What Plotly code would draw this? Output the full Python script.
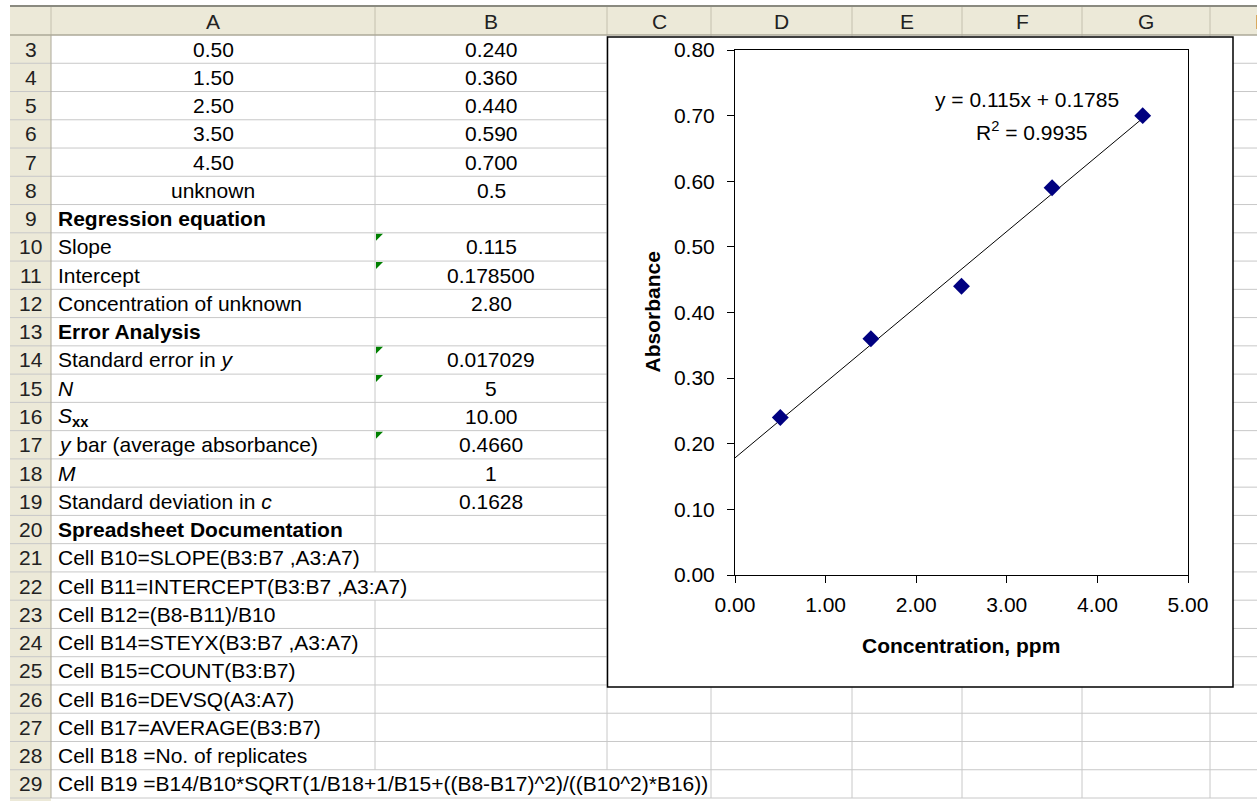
import plotly.graph_objects as go

W, H = 1257, 801

# ---------------- data ----------------
conc = [0.50, 1.50, 2.50, 3.50, 4.50]
absorbance = [0.240, 0.360, 0.440, 0.590, 0.700]
unknown_abs = 0.5
slope = 0.115
intercept = 0.1785
r_squared = 0.9935

col_letters = ["A", "B", "C", "D", "E", "F", "G", "H"]
first_row = 3
last_row = 29

# rows 9..29, column A text and column B text
sheet_col_a = [
    "<b>Regression equation</b>",
    "Slope",
    "Intercept",
    "Concentration of unknown",
    "<b>Error Analysis</b>",
    "Standard error in <i>y</i>",
    "<i>N</i>",
    "<i>S</i><sub><b>xx</b></sub>",
    "<i>y</i> bar (average absorbance)",
    "<i>M</i>",
    "Standard deviation in <i>c</i>",
    "<b>Spreadsheet Documentation</b>",
    "Cell B10=SLOPE(B3:B7 ,A3:A7)",
    "Cell B11=INTERCEPT(B3:B7 ,A3:A7)",
    "Cell B12=(B8-B11)/B10",
    "Cell B14=STEYX(B3:B7 ,A3:A7)",
    "Cell B15=COUNT(B3:B7)",
    "Cell B16=DEVSQ(A3:A7)",
    "Cell B17=AVERAGE(B3:B7)",
    "Cell B18 =No. of replicates",
    "Cell B19 =B14/B10*SQRT(1/B18+1/B15+((B8-B17)^2)/((B10^2)*B16))",
]
sheet_col_b = [
    "", "0.115", "0.178500", "2.80", "", "0.017029", "5", "10.00",
    "0.4660", "1", "0.1628", "", "", "", "", "", "", "", "", "", "",
]
flagged_rows = [10, 11, 14, 15, 17]   # cells with green error indicator
overflow_rows = {22: [375], 29: [375, 607]}  # gridlines hidden by text overflow

# ---------------- layout geometry (pixels) ----------------
FONT = "Liberation Sans, Arial, sans-serif"
FS = 21
col_edges = [51, 375, 607, 711, 852, 962, 1082, 1210, 1314]
hdr_top, hdr_bot = 6, 35
row_h = (798 - hdr_bot) / 27.0
plot_l, plot_r, plot_t, plot_b = 735, 1188, 50, 575
chart_box = (607.5, 37, 1233, 687)

def px(x):
    return x / W

def py(y):
    return 1 - y / H

def row_top(r):
    return hdr_bot + (r - first_row) * row_h

def row_mid(r):
    return row_top(r) + row_h / 2

shapes = []
grid_c = "#C8C8C8"
hdr_fill = "#ECE9D8"

# header band and row-number column
shapes.append(dict(type="rect", xref="paper", yref="paper", layer="below",
                   x0=px(10), x1=px(W + 5), y0=py(hdr_top), y1=py(hdr_bot),
                   fillcolor=hdr_fill, line=dict(width=0)))
shapes.append(dict(type="rect", xref="paper", yref="paper", layer="below",
                   x0=px(10), x1=px(col_edges[0]), y0=py(hdr_bot), y1=py(H + 5),
                   fillcolor=hdr_fill, line=dict(width=0)))

# horizontal gridlines
for k in range(1, last_row - first_row + 2):
    yy = row_top(first_row) + k * row_h
    shapes.append(dict(type="line", xref="paper", yref="paper", layer="below",
                       x0=px(10), x1=px(W + 5), y0=py(yy), y1=py(yy),
                       line=dict(color=grid_c, width=1)))

# vertical gridlines (split to skip overflowing text)
for xe in col_edges:
    # header separator
    shapes.append(dict(type="line", xref="paper", yref="paper", layer="below",
                       x0=px(xe), x1=px(xe), y0=py(hdr_top), y1=py(hdr_bot),
                       line=dict(color="#C4C0AE", width=1)))
    for r in range(first_row, last_row + 1):
        if r in overflow_rows and xe in overflow_rows[r]:
            continue
        shapes.append(dict(type="line", xref="paper", yref="paper", layer="below",
                           x0=px(xe), x1=px(xe), y0=py(row_top(r)), y1=py(row_top(r) + row_h),
                           line=dict(color=grid_c if xe != col_edges[0] else "#ACA899", width=1)))

# header borders
shapes.append(dict(type="line", xref="paper", yref="paper", layer="below",
                   x0=px(10), x1=px(W + 5), y0=py(hdr_top), y1=py(hdr_top),
                   line=dict(color="#8A8A80", width=2)))
shapes.append(dict(type="line", xref="paper", yref="paper", layer="below",
                   x0=px(10), x1=px(W + 5), y0=py(hdr_bot), y1=py(hdr_bot),
                   line=dict(color="#ACA899", width=1.5)))

# green error indicators
for r in flagged_rows:
    t = row_top(r) + 1
    x0 = col_edges[0 + 1] + 1
    path = "M {},{} L {},{} L {},{} Z".format(px(x0), py(t), px(x0 + 7), py(t), px(x0), py(t + 7))
    shapes.append(dict(type="path", xref="paper", yref="paper", layer="below",
                       path=path, fillcolor="#008000", line=dict(width=0)))

# chart box
shapes.append(dict(type="rect", xref="paper", yref="paper", layer="below",
                   x0=px(chart_box[0]), x1=px(chart_box[2]),
                   y0=py(chart_box[1]), y1=py(chart_box[3]),
                   fillcolor="white", line=dict(color="black", width=1.5)))

# ---------------- annotations ----------------
ann = []

def text(x, y, s, anchor="center", size=FS, color="black", angle=0):
    ann.append(dict(x=px(x), y=py(y), xref="paper", yref="paper", text=s,
                    showarrow=False, xanchor=anchor, yanchor="middle", textangle=angle,
                    font=dict(family=FONT, size=size, color=color)))

# column headers
hdr_mid = (hdr_top + hdr_bot) / 2 + 1
for i, letter in enumerate(col_letters):
    cx = (col_edges[i] + col_edges[i + 1]) / 2
    text(cx, hdr_mid, letter, color="#222222")

# row numbers
for r in range(first_row, last_row + 1):
    text(31, row_mid(r), str(r), color="#222222")

a_mid = (col_edges[0] + col_edges[1]) / 2
b_mid = (col_edges[1] + col_edges[2]) / 2

# data block rows 3-7
for i, (c, a) in enumerate(zip(conc, absorbance)):
    r = first_row + i
    text(a_mid, row_mid(r), "{:.2f}".format(c))
    text(b_mid, row_mid(r), "{:.3f}".format(a))
# row 8
text(a_mid, row_mid(8), "unknown")
text(b_mid, row_mid(8), "{:g}".format(unknown_abs))

# rows 9-29
for i, (la, lb) in enumerate(zip(sheet_col_a, sheet_col_b)):
    r = 9 + i
    text(56, row_mid(r), la, anchor="left")
    if lb:
        text(b_mid, row_mid(r), lb)

# chart titles
text(652, (plot_t + plot_b) / 2, "<b>Absorbance</b>", angle=-90)
text((plot_l + plot_r) / 2, 645, "<b>Concentration, ppm</b>")

# trendline label
text(1027, 100, "y = {:.3f}x + {:.4f}".format(slope, intercept))
text(1032, 131, "R<sup>2</sup> = {:.4f}".format(r_squared))

# ---------------- traces ----------------
x_end = max(conc)
fig = go.Figure()
fig.add_trace(go.Scatter(
    x=[0, x_end], y=[intercept, slope * x_end + intercept],
    mode="lines", line=dict(color="black", width=1), hoverinfo="skip", showlegend=False))
fig.add_trace(go.Scatter(
    x=conc, y=absorbance, mode="markers",
    marker=dict(symbol="diamond", size=13, color="#000080", line=dict(width=0)),
    showlegend=False))

axis_common = dict(
    showline=True, linecolor="black", linewidth=1, mirror=True,
    ticks="outside", ticklen=7, tickwidth=1, tickcolor="black",
    showgrid=False, zeroline=False, tickformat=".2f",
    tickfont=dict(family=FONT, size=FS, color="black"),
    automargin=False, fixedrange=True,
)

fig.update_layout(
    template="none",
    width=W, height=H,
    margin=dict(l=0, r=0, t=0, b=0, pad=0),
    paper_bgcolor="white",
    plot_bgcolor="rgba(0,0,0,0)",
    showlegend=False,
    xaxis=dict(domain=[px(plot_l), px(plot_r)], range=[0, 5], dtick=1, tick0=0,
               ticklabelstandoff=4, **axis_common),
    yaxis=dict(domain=[py(plot_b), py(plot_t)], range=[0, 0.8], dtick=0.1, tick0=0,
               ticklabelstandoff=8, **axis_common),
    shapes=shapes,
    annotations=ann,
)

fig.write_html("out.html")
